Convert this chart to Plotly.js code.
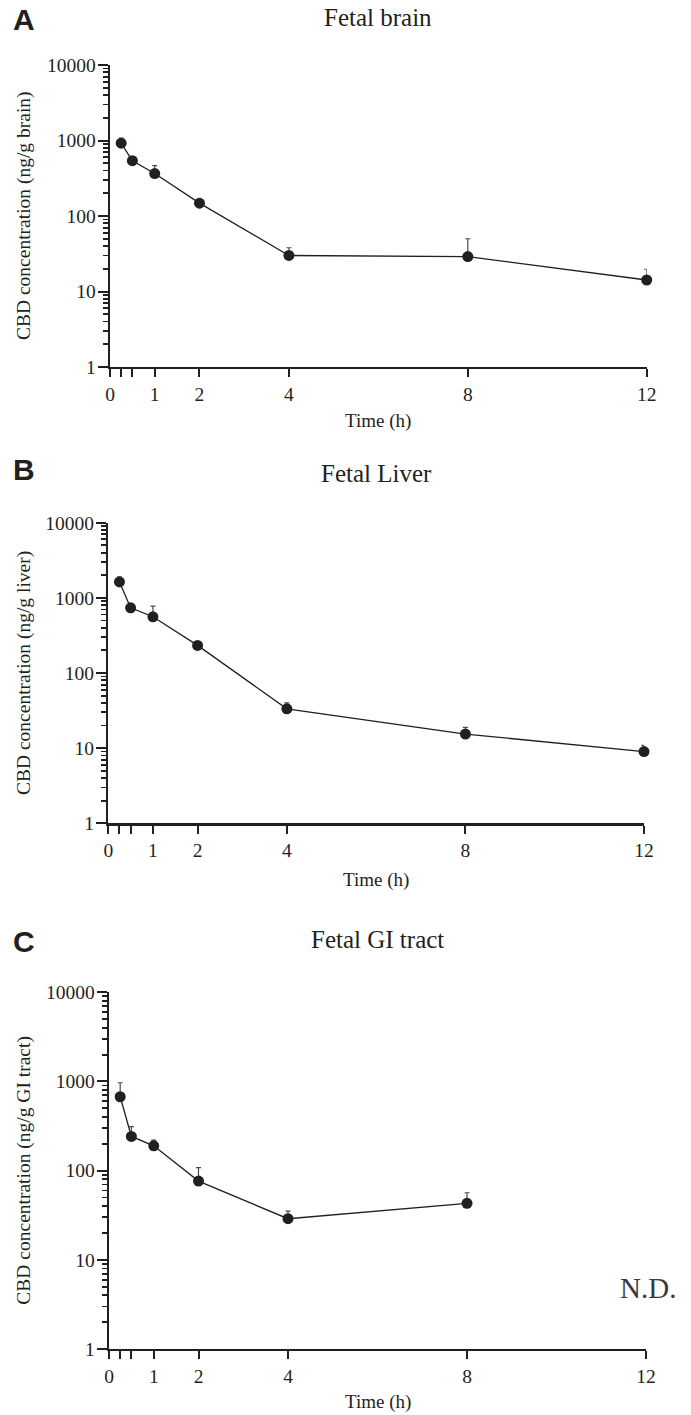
<!DOCTYPE html>
<html>
<head>
<meta charset="utf-8">
<script src="https://cdn.plot.ly/plotly-3.0.1.min.js"></script>
<style>html,body{margin:0;padding:0;background:#fff;}</style>
</head>
<body>
<div id="chart" style="width:691px;height:1415px;"></div>
<script>
// ---- data ----
const timeBrain = [0.25, 0.5, 1, 2, 4, 8, 12];
const brainMean = [920, 540, 365, 148, 30, 29, 14.2];
const brainSEM  = [155, 20, 100, 7, 8, 21, 5.5];

const timeLiver = [0.25, 0.5, 1, 2, 4, 8, 12];
const liverMean = [1630, 736, 560, 233, 33.4, 15.4, 9.0];
const liverSEM  = [270, 90, 215, 12, 6.6, 3.5, 1.9];

const timeGI = [0.25, 0.5, 1, 2, 4, 8];
const giMean = [674, 242, 190, 76.4, 28.9, 43];
const giSEM  = [293, 69, 30, 31.6, 6.3, 13.5];

const xTickVals = [0, 0.25, 0.5, 1, 2, 4, 8, 12];
const xTickText = ['0', '', '', '1', '2', '4', '8', '12'];
const yTickVals = [1, 10, 100, 1000, 10000];
const yTickText = ['1', '10', '100', '1000', '10000'];

const panelLetters = ['A', 'B', 'C'];
const panelTitles = ['Fetal brain', 'Fetal Liver', 'Fetal GI tract'];
const yTitles = ['CBD concentration (ng/g brain)', 'CBD concentration (ng/g liver)', 'CBD concentration (ng/g GI tract)'];
const xTitle = 'Time (h)';
const ndLabel = 'N.D.';

// ---- layout helpers ----
const W = 691, H = 1415;
const fx = p => p / W;
const fy = p => 1 - p / H;
const INK = '#231f20';
const SERIF = 'Liberation Serif, Times New Roman, serif';

const minorVals = [];
for (let d = 1; d < 10000; d *= 10) {
  for (let k = 2; k <= 9; k++) minorVals.push(k * d);
}

// plot-area pixel boxes [left, right, top, bottom]
const boxes = [
  [110, 646.7, 65, 367],
  [108.3, 644, 522.7, 823.3],
  [109, 646, 992.3, 1349]
];

function xAxis(box, anchor) {
  return {
    domain: [fx(box[0]), fx(box[1])],
    anchor: anchor,
    range: [0, 12],
    tickmode: 'array', tickvals: xTickVals, ticktext: xTickText,
    ticks: 'outside', ticklen: 8, tickwidth: 2, tickcolor: INK,
    showline: true, linewidth: 2.4, linecolor: INK,
    showgrid: false, zeroline: false,
    tickfont: {family: SERIF, size: 19.5, color: INK},
    fixedrange: true
  };
}
function yAxis(box, anchor) {
  return {
    domain: [fy(box[3]), fy(box[2])],
    anchor: anchor,
    type: 'log',
    range: [0, 4],
    tickmode: 'array', tickvals: yTickVals, ticktext: yTickText,
    ticks: 'outside', ticklen: 10, tickwidth: 2, tickcolor: INK,
    ticklabelstandoff: -2,
    minor: {tickmode: 'array', tickvals: minorVals, ticks: 'outside', ticklen: 5, tickwidth: 1.8, tickcolor: INK, showgrid: false},
    showline: true, linewidth: 2.4, linecolor: INK,
    showgrid: false, zeroline: false,
    tickfont: {family: SERIF, size: 19.5, color: INK},
    fixedrange: true
  };
}

function series(x, y, err, xa, ya) {
  return {
    type: 'scatter', mode: 'lines+markers',
    x: x, y: y, xaxis: xa, yaxis: ya,
    line: {color: INK, width: 1.3},
    marker: {color: INK, size: 11, line: {width: 0}},
    error_y: {type: 'data', symmetric: false, array: err, arrayminus: err.map(() => 0),
              color: '#4a4a4a', thickness: 1.2, width: 2.5},
    cliponaxis: false,
    showlegend: false, hoverinfo: 'x+y'
  };
}

const data = [
  series(timeBrain, brainMean, brainSEM, 'x', 'y'),
  series(timeLiver, liverMean, liverSEM, 'x2', 'y2'),
  series(timeGI, giMean, giSEM, 'x3', 'y3')
];

const annotations = [];
const letterY = [20, 470, 941.5];
const titleY = [18, 473, 939];
const xTitleY = [420.7, 880, 1401.7];
boxes.forEach((b, i) => {
  const cx = (b[0] + b[1]) / 2;
  const cy = (b[2] + b[3]) / 2;
  annotations.push({xref: 'paper', yref: 'paper', x: fx(24.5), y: fy(letterY[i]), xanchor: 'center', yanchor: 'middle',
    text: '<b>' + panelLetters[i] + '</b>', showarrow: false,
    font: {family: 'Liberation Sans, Arial, sans-serif', size: 30, color: INK}});
  annotations.push({xref: 'paper', yref: 'paper', x: fx(cx), y: fy(titleY[i]), xanchor: 'center', yanchor: 'middle',
    text: panelTitles[i], showarrow: false,
    font: {family: SERIF, size: 25, color: INK}});
  annotations.push({xref: 'paper', yref: 'paper', x: fx(cx), y: fy(xTitleY[i]), xanchor: 'center', yanchor: 'middle',
    text: xTitle, showarrow: false,
    font: {family: SERIF, size: 19, color: INK}});
  annotations.push({xref: 'paper', yref: 'paper', x: fx(24), y: fy(cy), xanchor: 'center', yanchor: 'middle',
    text: yTitles[i], textangle: -90, showarrow: false,
    font: {family: SERIF, size: 19.5, color: INK}});
});
annotations.push({xref: 'paper', yref: 'paper', x: fx(648), y: fy(1288), xanchor: 'center', yanchor: 'middle',
  text: ndLabel, showarrow: false, font: {family: SERIF, size: 29, color: '#3a3a3a'}});

const layout = {
  width: W, height: H, autosize: false,
  margin: {l: 0, r: 0, t: 0, b: 0, pad: 0},
  paper_bgcolor: '#ffffff', plot_bgcolor: '#ffffff',
  showlegend: false,
  xaxis: xAxis(boxes[0], 'y'),
  yaxis: yAxis(boxes[0], 'x'),
  xaxis2: xAxis(boxes[1], 'y2'),
  yaxis2: yAxis(boxes[1], 'x2'),
  xaxis3: xAxis(boxes[2], 'y3'),
  yaxis3: yAxis(boxes[2], 'x3'),
  annotations: annotations
};

Plotly.newPlot('chart', data, layout, {displayModeBar: false, staticPlot: true});
</script>
</body>
</html>
